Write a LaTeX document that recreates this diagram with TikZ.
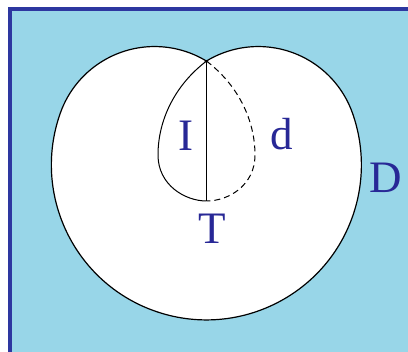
\documentclass[tikz,border=0pt]{standalone}
\usepackage{fontspec}
\setmainfont{Liberation Serif}
\definecolor{bgblue}{RGB}{152,214,232}
\definecolor{frameblue}{RGB}{45,55,160}
\definecolor{labelblue}{RGB}{40,40,150}
\begin{document}
\begin{tikzpicture}[x=1pt,y=1pt,
  outline/.style={draw=black,line width=1.2pt},
  lbl/.style={text=labelblue,font=\fontsize{45}{45}\selectfont,inner sep=0pt}]
\useasboundingbox (0,0) rectangle (408,352);
\clip (0,0) rectangle (408,352);
\fill[white] (0,0) rectangle (408,352);
% frame
\draw[fill=bgblue,draw=frameblue,line width=4pt] (9.5,342.5) rectangle (430,-20);
% heart outline
\coordinate (cusp) at (206.5,290.9);
\coordinate (lensbot) at (206.5,151);
\path[fill=white,outline] (cusp)
  arc[start angle=58.7,end angle=160.5,radius=100]
  arc[start angle=160.5,end angle=379.5,radius=155]
  arc[start angle=19.5,end angle=121.3,radius=100] -- cycle;
% lens
\draw[line width=1pt] (cusp) .. controls (175,267) and (158,232) .. (158,197)
  .. controls (158,167) and (185,151) .. (lensbot);
\draw[line width=1pt,dash pattern=on 6pt off 4pt] (cusp) .. controls (238,267) and (255,232) .. (255,197)
  .. controls (255,167) and (229,151) .. (lensbot);
\draw[line width=1pt] (cusp) -- (lensbot);
% labels
\node[lbl] (I) at (186,216) {I};
\node[lbl] (d) at (282,218) {d};
\node[lbl] (T) at (212,123) {T};
\node[lbl] (D) at (386,174) {D};
\end{tikzpicture}
\end{document}
